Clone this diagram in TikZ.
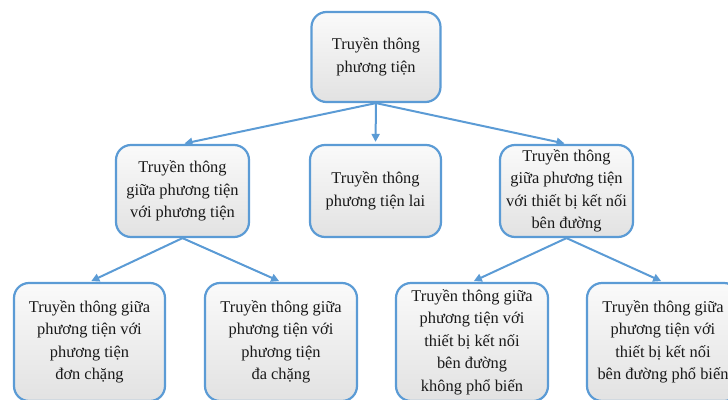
\documentclass[tikz,border=0pt]{standalone}
\usepackage{fontspec}
\setmainfont{Liberation Serif}
\usetikzlibrary{arrows.meta,shadings}
\definecolor{edgeblue}{RGB}{91,155,213}
\definecolor{boxtop}{RGB}{250,250,250}
\definecolor{boxbot}{RGB}{226,226,226}
\definecolor{inktext}{RGB}{25,25,25}
\tikzset{
  box/.style={draw=edgeblue, line width=2.2pt, rounded corners=15pt,
    top color=boxtop, bottom color=boxbot, text=inktext,
    align=center, inner sep=0pt,
    font=\fontsize{16.4}{22.5}\selectfont},
  link/.style={draw=edgeblue, line width=2pt,
    -{Triangle[length=8pt,width=8pt]}, shorten >=2pt}
}
\begin{document}
\begin{tikzpicture}[x=1pt,y=-1pt]
  \useasboundingbox (0,0) rectangle (728,399);
  % root
  \node[box, minimum width=129pt, minimum height=90pt] (root) at (376,57)
    {Truyền thông\\phương tiện};
  % second level
  \node[box, minimum width=133pt, minimum height=92pt] (v2v) at (182.5,191)
    {Truyền thông\\giữa phương tiện\\với phương tiện};
  \node[box, minimum width=131pt, minimum height=92pt] (hyb) at (375.5,191)
    {Truyền thông\\phương tiện lai};
  \node[box, minimum width=133pt, minimum height=92pt] (v2i) at (566.5,191)
    {Truyền thông\\giữa phương tiện\\với thiết bị kết nối\\bên đường};
  % third level
  \node[box, minimum width=151pt, minimum height=118pt] (single) at (89.5,342)
    {Truyền thông giữa\\phương tiện với\\phương tiện\\đơn chặng};
  \node[box, minimum width=152pt, minimum height=118pt] (multi) at (281,342)
    {Truyền thông giữa\\phương tiện với\\phương tiện\\đa chặng};
  \node[box, minimum width=152pt, minimum height=118pt] (rare) at (472,342)
    {Truyền thông giữa\\phương tiện với\\thiết bị kết nối\\bên đường\\không phổ biến};
  \node[box, minimum width=152pt, minimum height=118pt] (common) at (663,342)
    {Truyền thông giữa\\phương tiện với\\thiết bị kết nối\\bên đường phổ biến};
  % connectors
  \draw[link] (root.south) -- (v2v.north);
  \draw[link] (root.south) -- (hyb.north);
  \draw[link] (root.south) -- (v2i.north);
  \draw[link] (v2v.south) -- (single.north);
  \draw[link] (v2v.south) -- (multi.north);
  \draw[link] (v2i.south) -- (rare.north);
  \draw[link] (v2i.south) -- (common.north);
\end{tikzpicture}
\end{document}
